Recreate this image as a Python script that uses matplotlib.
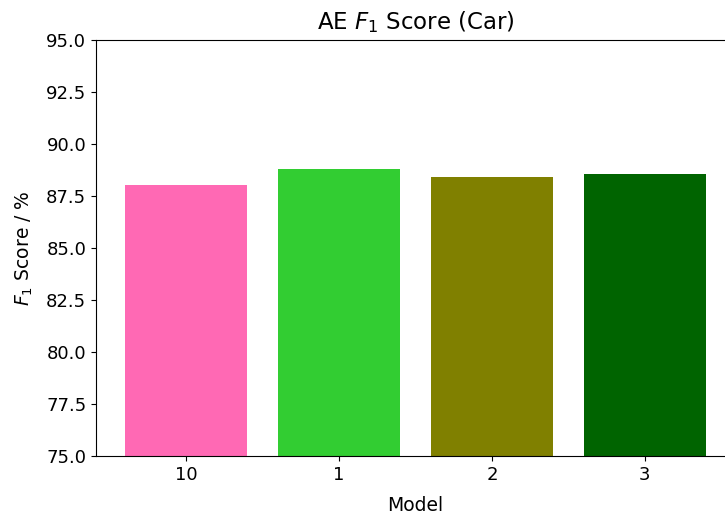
import matplotlib
matplotlib.use("Agg")
import matplotlib.pyplot as plt

models = ["10", "1", "2", "3"]
scores = [88.03, 88.78, 88.41, 88.54]
colors = ["hotpink", "limegreen", "olive", "darkgreen"]

fig = plt.figure(figsize=(7.25, 5.17), dpi=100)
ax = fig.add_axes([96 / 725, 61 / 517, 639 / 725, 416 / 517])
ax.bar(models, scores, color=colors)
ax.set_ylim(75, 95)
ax.set_title("AE $F_1$ Score (Car)", fontsize=16.5, pad=8)
ax.set_xlabel("Model", fontsize=13.5, labelpad=9)
ax.set_ylabel("$F_1$ Score / %", fontsize=13.5, labelpad=8)
ax.tick_params(labelsize=13)
fig.savefig("out.png", dpi=100)
